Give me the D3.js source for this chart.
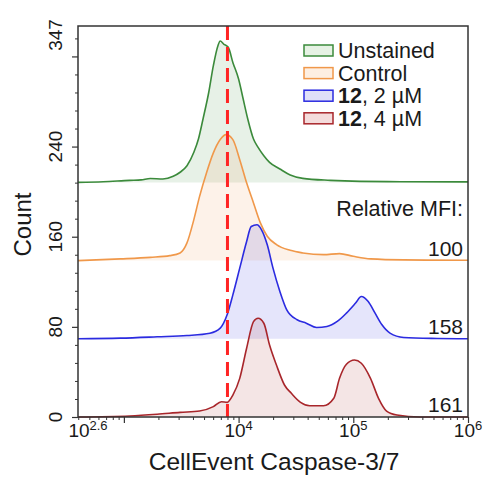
<html>
<head>
<meta charset="utf-8">
<script src="https://d3js.org/d3.v7.min.js"></script>
<style>
  body { margin: 0; background: #fff; font-family: Arial, "Liberation Sans", Helvetica, sans-serif; }
  text { fill: #1a1a1a; }
</style>
</head>
<body>
<svg id="chart" width="487" height="478"></svg>
<script>
// samples, top to bottom
const samples = ["Unstained", "Control", "12, 2 µM", "12, 4 µM"];
const lineColors = ["#3b8a3b", "#f0984a", "#2b2be0", "#a8262b"];
const fillColors = ["#e6f2e4", "#fdefe2", "#e0e0f8", "#f4dcdc"];
const offsets = [208.2, 138.8, 69.4, 0];
const mfiLabels = ["", "100", "158", "161"];
const gateValue = 8000;

// log10 intensity / count above each trace's baseline
const unstainedLog = [2.60, 2.82, 3.05, 3.15, 3.23, 3.34, 3.43, 3.49, 3.55, 3.61, 3.65, 3.69, 3.74, 3.78, 3.82, 3.84, 3.87, 3.91, 3.95, 4.00, 4.04, 4.08, 4.13, 4.17, 4.22, 4.27, 4.36, 4.45, 4.56, 4.80, 5.06, 5.41, 6.00];
const unstainedCount = [0, 0.6, 1.8, 2.2, 3.4, 3.0, 5.4, 9, 14.8, 26.7, 38.5, 56.3, 80, 103.6, 121.3, 125.5, 122.8, 119.9, 106.5, 91.8, 74, 56.3, 38.5, 31.1, 23.7, 17.8, 11.9, 6.6, 3.6, 1.8, 0.9, 0.6, 0.5];

const controlLog = [2.60, 2.97, 3.23, 3.40, 3.49, 3.55, 3.61, 3.66, 3.72, 3.78, 3.84, 3.89, 3.95, 4.01, 4.07, 4.13, 4.19, 4.25, 4.33, 4.45, 4.56, 4.74, 4.88, 5.00, 5.15, 5.44, 6.00];
const controlCount = [0, 1.5, 2.9, 4.4, 6.8, 15.7, 36.4, 57, 77.8, 95.6, 107.4, 111.8, 107.4, 89.6, 69, 51.2, 33.5, 21.6, 14.2, 9.1, 6.8, 5.3, 6.2, 3.8, 1.5, 0.6, 0.3];

const lowDoseLog = [2.60, 2.97, 3.29, 3.55, 3.75, 3.84, 3.90, 3.95, 4.01, 4.07, 4.11, 4.16, 4.20, 4.25, 4.30, 4.36, 4.42, 4.51, 4.59, 4.68, 4.77, 4.86, 4.94, 5.02, 5.07, 5.13, 5.19, 5.25, 5.32, 5.44, 5.73, 6.00];
const lowDoseCount = [0, 0.6, 1.8, 2.9, 5, 9.5, 21.3, 39, 62.7, 86.3, 99.7, 101.2, 96.7, 83.4, 62.7, 42, 25.7, 16.9, 13.9, 10, 10.9, 15.4, 22.8, 31.7, 37.5, 33.1, 22.8, 12.4, 5, 1.2, 0.3, 0];

const highDoseLog = [2.60, 3.05, 3.29, 3.49, 3.66, 3.78, 3.85, 3.90, 3.95, 4.01, 4.07, 4.13, 4.17, 4.22, 4.27, 4.33, 4.40, 4.46, 4.54, 4.62, 4.74, 4.83, 4.88, 4.94, 5.01, 5.07, 5.15, 5.22, 5.29, 5.38, 5.58, 6.00];
const highDoseCount = [0, 0.9, 2.4, 4.1, 5.3, 9.2, 13.6, 13, 19.5, 34.3, 61, 84.6, 87.6, 83.2, 63.9, 46.1, 28.4, 21, 13, 10, 10, 16.6, 34.3, 46.8, 50.6, 47.7, 34.3, 16.6, 5.3, 1.8, 0, 0];

const seriesLog = [unstainedLog, controlLog, lowDoseLog, highDoseLog];
const seriesCount = [unstainedCount, controlCount, lowDoseCount, highDoseCount];

const yMajor = [0, 80, 160, 240, 320];
const yLabels = [0, 80, 160, 240, 347];
const xMajor = [1e3, 1e4, 1e5, 1e6];
const xLabels = [["10", "2.6", Math.pow(10, 2.6)], ["10", "4", 1e4], ["10", "5", 1e5], ["10", "6", 1e6]];

const svg = d3.select("#chart");
const margin = { top: 26, right: 19, bottom: 61, left: 78 };
const W = 487 - margin.left - margin.right;
const H = 478 - margin.top - margin.bottom;

const x = d3.scaleLog().domain([Math.pow(10, 2.6), 1e6]).range([0, W]);
const y = d3.scaleLinear().domain([0, 347]).range([H, 0]);

const plot = svg.append("g").attr("transform", `translate(${margin.left},${margin.top})`);

// histograms
seriesLog.forEach((logs, i) => {
  const pts = logs.map((l, j) => ({ v: Math.pow(10, l), c: seriesCount[i][j] }));
  const base = offsets[i];
  const area = d3.area()
    .x(d => x(d.v))
    .y0(y(base))
    .y1(d => y(base + d.c))
    .curve(d3.curveMonotoneX);
  const line = d3.line()
    .x(d => x(d.v))
    .y(d => y(base + d.c))
    .curve(d3.curveMonotoneX);
  plot.append("path").datum(pts).attr("d", area)
    .attr("fill", lineColors[i]).attr("fill-opacity", 0.12);
  plot.append("path").datum(pts).attr("d", line)
    .attr("fill", "none").attr("stroke", lineColors[i]).attr("stroke-width", 1.6);
});

// gate line
plot.append("line")
  .attr("x1", x(gateValue)).attr("x2", x(gateValue))
  .attr("y1", 0).attr("y2", H)
  .attr("stroke", "#ff2424").attr("stroke-width", 3)
  .attr("stroke-dasharray", "14,7");

// frame
plot.append("rect").attr("width", W).attr("height", H)
  .attr("fill", "none").attr("stroke", "#333").attr("stroke-width", 1.5);

// y axis ticks
const yMinor = d3.range(0, 347, 16).filter(v => !yMajor.includes(v));
plot.append("g").call(d3.axisLeft(y).tickValues(yMinor).tickSize(3).tickFormat(""))
  .call(g => g.select(".domain").remove())
  .selectAll("line").attr("stroke", "#333");
plot.append("g").call(d3.axisLeft(y).tickValues(yMajor).tickSize(6).tickFormat(""))
  .call(g => g.select(".domain").remove())
  .selectAll("line").attr("stroke", "#333").attr("stroke-width", 1.2);

yLabels.forEach(v => {
  const ty = v === 347 ? y(v) + 9 : y(v);
  plot.append("text")
    .attr("transform", `translate(-16,${ty}) rotate(-90)`)
    .attr("text-anchor", "middle")
    .style("font-size", "19px")
    .text(v);
});

// x axis ticks
const xMinor = [];
[100, 1000, 10000, 100000].forEach(dec => {
  for (let k = 2; k <= 9; k++) { const v = dec * k; if (v > Math.pow(10, 2.6)) xMinor.push(v); }
});
plot.append("g").attr("transform", `translate(0,${H})`)
  .call(d3.axisBottom(x).tickValues(xMinor).tickSize(3).tickFormat(""))
  .call(g => g.select(".domain").remove())
  .selectAll("line").attr("stroke", "#333");
plot.append("g").attr("transform", `translate(0,${H})`)
  .call(d3.axisBottom(x).tickValues(xMajor).tickSize(6).tickFormat(""))
  .call(g => g.select(".domain").remove())
  .selectAll("line").attr("stroke", "#333").attr("stroke-width", 1.2);

xLabels.forEach(([b, e, v], i) => {
  let tx = x(v);
  if (i === 0) tx += 10;
  const t = plot.append("text")
    .attr("x", tx).attr("y", H + 20)
    .attr("text-anchor", "middle")
    .style("font-size", "19px");
  t.append("tspan").text(b);
  t.append("tspan").attr("dy", -7).style("font-size", "13px").text(e);
});

// axis titles
svg.append("text")
  .attr("x", 274).attr("y", 470)
  .attr("text-anchor", "middle")
  .style("font-size", "24.5px")
  .text("CellEvent Caspase-3/7");
svg.append("text")
  .attr("transform", `translate(31,${margin.top + H / 2 + 3}) rotate(-90)`)
  .attr("text-anchor", "middle")
  .style("font-size", "24px")
  .text("Count");

// MFI annotations
plot.append("text")
  .attr("x", W - 5).attr("y", y(offsets[1] + 40))
  .attr("text-anchor", "end")
  .style("font-size", "21.5px")
  .text("Relative MFI:");
mfiLabels.forEach((m, i) => {
  if (!m) return;
  plot.append("text")
    .attr("x", W - 5).attr("y", y(offsets[i]) - 5)
    .attr("text-anchor", "end")
    .style("font-size", "21px")
    .text(m);
});

// legend
const legend = svg.append("g").attr("transform", "translate(304,45)");
samples.forEach((s, i) => {
  const g = legend.append("g").attr("transform", `translate(0,${i * 22.6})`);
  g.append("rect").attr("width", 29).attr("height", 11)
    .attr("fill", fillColors[i]).attr("stroke", lineColors[i]).attr("stroke-width", 1.5);
  const t = g.append("text").attr("x", 34).attr("y", 13).style("font-size", "21.5px");
  if (s.startsWith("12")) {
    t.append("tspan").style("font-weight", "bold").text("12");
    t.append("tspan").text(s.slice(2));
  } else {
    t.text(s);
  }
});
</script>
</body>
</html>
